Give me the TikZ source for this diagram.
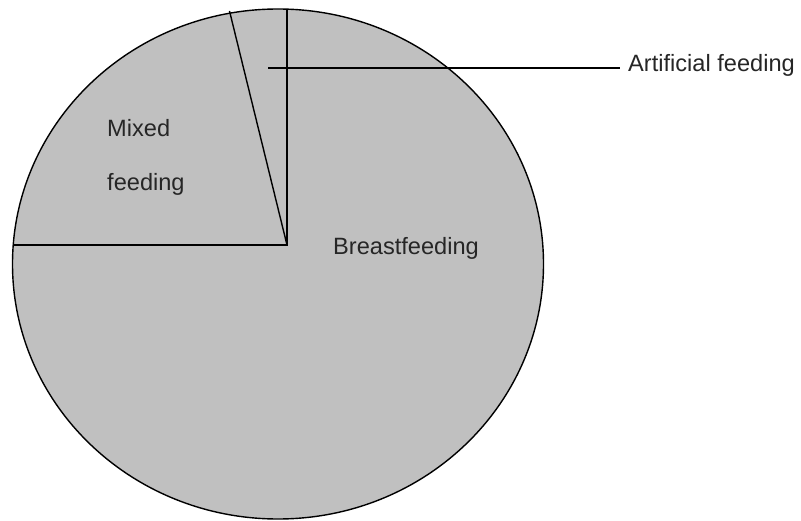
\documentclass[tikz,border=0pt]{standalone}
\usepackage{fontspec}
\setmainfont{Liberation Sans}
\definecolor{piegray}{RGB}{192,192,192}
\begin{document}
\begin{tikzpicture}[x=1pt,y=-1pt,
  edge/.style={draw=black,line width=1.4pt},
  lbl/.style={anchor=base west,inner sep=0pt,font=\fontsize{23.6}{28}\selectfont,text=black!85}]
\useasboundingbox (0,0) rectangle (801,521);
\fill[piegray,draw=black,line width=1.4pt] (278,264) ellipse [x radius=265.5, y radius=255];
\coordinate (c) at (287,245);
\coordinate (top) at (287,9.3);
\coordinate (slant) at (229.5,11);
\coordinate (left) at (12.7,245);
\draw[edge] (left) -- (c) -- (top);
\draw[edge] (c) -- (slant);
\node[lbl] (mixed) at (107,137) {Mixed};
\node[lbl] (mixed2) at (107,191) {feeding};
\node[lbl] (breast) at (333,255) {Breastfeeding};
\node[lbl] (art) at (628,72) {Artificial feeding};
\coordinate (lead) at (268,68);
\draw[edge] (lead) -- (620,68);
\end{tikzpicture}
\end{document}
